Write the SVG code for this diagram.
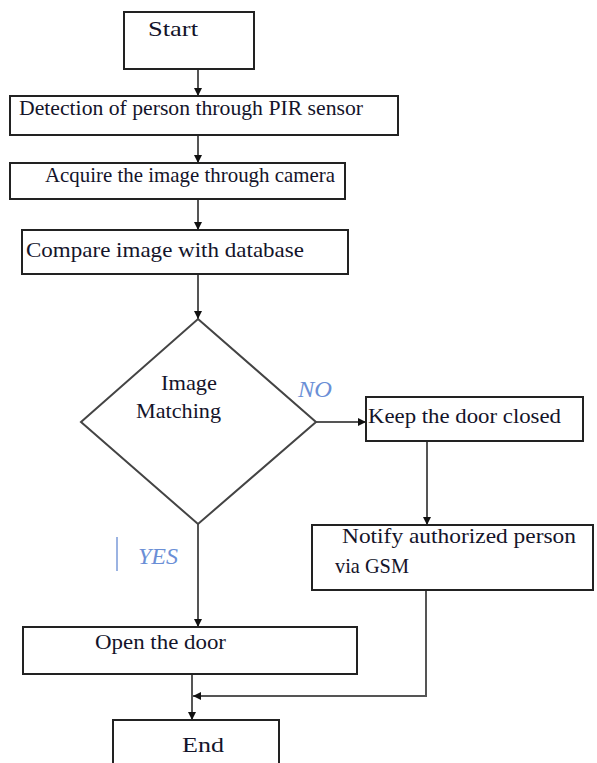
<svg xmlns="http://www.w3.org/2000/svg" width="597" height="763" viewBox="0 0 597 763">
<style>
.box{fill:#fff;stroke:#222;stroke-width:2}
.dia{fill:#fff;stroke:#444;stroke-width:2}
.t{font-family:"Liberation Serif","Times New Roman",serif;font-size:22px;fill:#14142a}
.lbl{font-family:"Liberation Serif","Times New Roman",serif;font-size:24px;font-style:italic;fill:#6b8fd6}
.ln{fill:none;stroke:#555;stroke-width:2}
</style>
<defs>
<marker id="ah" markerUnits="userSpaceOnUse" markerWidth="10" markerHeight="10" refX="8" refY="4" orient="auto">
<path d="M0,0 L8,4 L0,8 Z" fill="#111"/>
</marker>
</defs>
<rect width="597" height="763" fill="#fff"/>
<g id="connectors">
<line class="ln" x1="198" y1="69" x2="198" y2="96" marker-end="url(#ah)"/>
<line class="ln" x1="198" y1="135" x2="198" y2="163" marker-end="url(#ah)"/>
<line class="ln" x1="198" y1="199" x2="198" y2="230" marker-end="url(#ah)"/>
<line class="ln" x1="198" y1="274" x2="198" y2="319" marker-end="url(#ah)"/>
<line class="ln" x1="316" y1="422" x2="366" y2="422" marker-end="url(#ah)"/>
<line class="ln" x1="427" y1="441" x2="427" y2="525" marker-end="url(#ah)"/>
<line class="ln" x1="198" y1="524" x2="198" y2="627" marker-end="url(#ah)"/>
<polyline class="ln" points="426,590 426,696 193,696" marker-end="url(#ah)"/>
<line class="ln" x1="192" y1="674" x2="192" y2="720" marker-end="url(#ah)"/>
<line x1="117" y1="537" x2="117" y2="571" stroke="#7a9ad8" stroke-width="1.5"/>
<text class="lbl" x="298" y="397" textLength="34" lengthAdjust="spacingAndGlyphs">NO</text>
<text class="lbl" x="138" y="564" textLength="40" lengthAdjust="spacingAndGlyphs">YES</text>
</g>
<g id="start">
<rect class="box" x="124" y="12" width="130" height="57"/>
<text class="t" x="148" y="36" font-size="24" textLength="50" lengthAdjust="spacingAndGlyphs">Start</text>
</g>
<g id="detect">
<rect class="box" x="10" y="96" width="388" height="39"/>
<text class="t" x="19" y="115" textLength="344" lengthAdjust="spacingAndGlyphs">Detection of person through PIR sensor</text>
</g>
<g id="acquire">
<rect class="box" x="10" y="163" width="335" height="36"/>
<text class="t" x="45" y="182" textLength="290" lengthAdjust="spacingAndGlyphs">Acquire the image through camera</text>
</g>
<g id="compare">
<rect class="box" x="22" y="230" width="326" height="44"/>
<text class="t" x="26" y="257" textLength="278" lengthAdjust="spacingAndGlyphs">Compare image with database</text>
</g>
<g id="decision">
<polygon class="dia" points="198,319 316,422 198,524 81,422"/>
<text class="t" x="161" y="390" textLength="56" lengthAdjust="spacingAndGlyphs">Image</text>
<text class="t" x="136" y="418" textLength="85" lengthAdjust="spacingAndGlyphs">Matching</text>
</g>
<g id="keep">
<rect class="box" x="366" y="397" width="217" height="44"/>
<text class="t" x="368" y="423" textLength="193" lengthAdjust="spacingAndGlyphs">Keep the door closed</text>
</g>
<g id="notify">
<rect class="box" x="312" y="525" width="281" height="65"/>
<text class="t" x="342" y="543" textLength="234" lengthAdjust="spacingAndGlyphs">Notify authorized person</text>
<text class="t" x="335" y="573" textLength="74" lengthAdjust="spacingAndGlyphs">via GSM</text>
</g>
<g id="open">
<rect class="box" x="23" y="627" width="334" height="47"/>
<text class="t" x="95" y="649" textLength="131" lengthAdjust="spacingAndGlyphs">Open the door</text>
</g>
<g id="end">
<rect class="box" x="113" y="720" width="166" height="52"/>
<text class="t" x="182" y="752" font-size="26" textLength="42" lengthAdjust="spacingAndGlyphs">End</text>
</g>
</svg>
